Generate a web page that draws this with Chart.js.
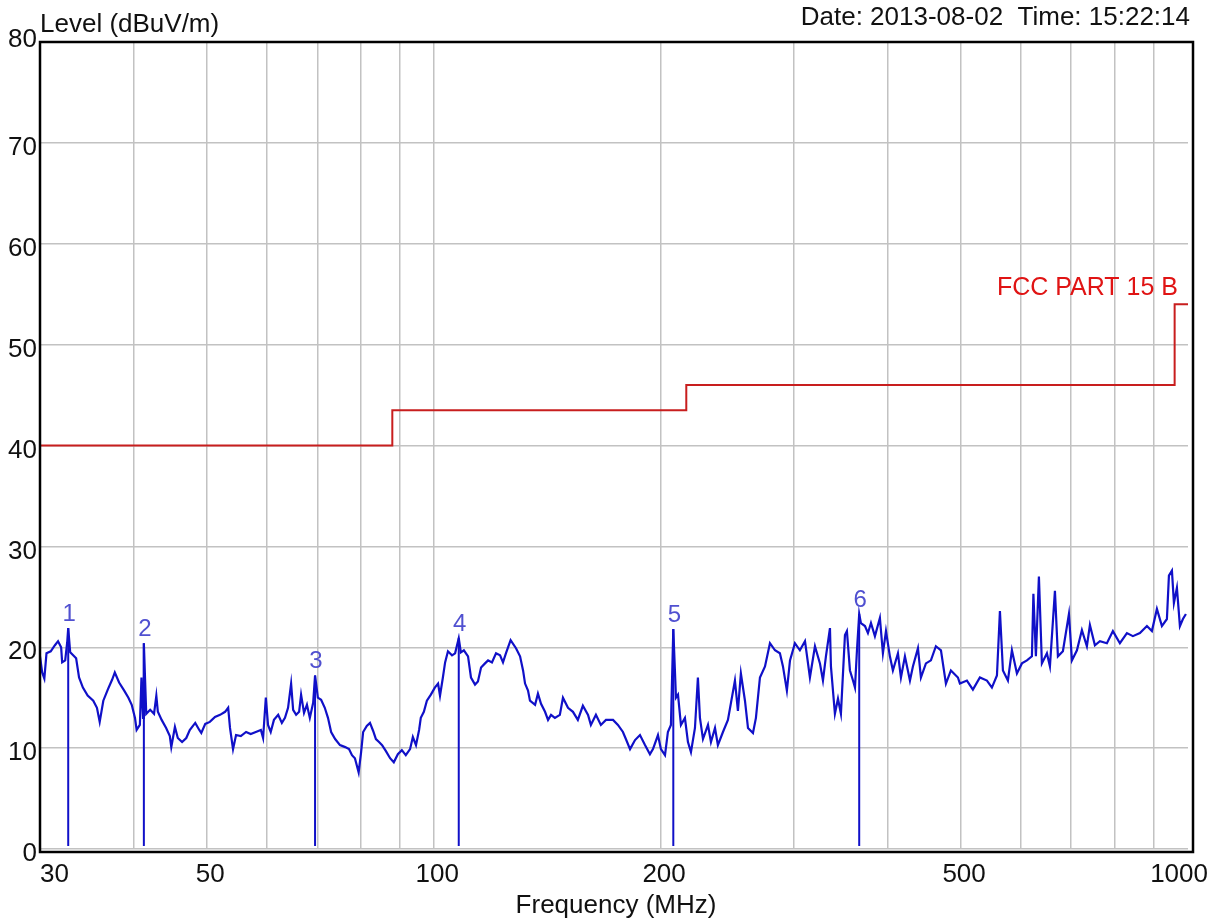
<!DOCTYPE html>
<html>
<head>
<meta charset="utf-8">
<title>Level (dBuV/m)</title>
<script src="https://cdn.jsdelivr.net/npm/chart.js@4.4.0/dist/chart.umd.min.js"></script>
<style>
    body { margin: 0; background: #fff; }
    #wrap { width: 1213px; height: 923px; }
</style>
</head>
<body>
<div id="wrap"><canvas id="emiChart" width="1213" height="923"></canvas></div>
<script>
// measured trace, frequency in MHz / level in dBuV/m
const traceFreq = [
    30.0, 30.2, 30.4, 30.6, 31.0, 31.4, 31.7, 32.0, 32.1, 32.4, 32.6, 32.7, 32.9, 33.2, 33.5, 33.8,
    34.2, 34.7, 35.3, 35.7, 36.0, 36.4, 36.9, 37.4, 37.7, 38.2, 38.8, 39.3, 39.7, 40.1, 40.3, 40.7,
    40.9, 41.1, 41.2, 41.5, 42.0, 42.5, 42.8, 43.0, 43.5, 44.1, 44.6, 44.8, 45.3, 45.7, 46.3, 46.9,
    47.4, 48.2, 48.8, 49.1, 49.7, 50.4, 51.2, 52.0, 52.8, 53.3, 53.6, 54.1, 54.6, 55.4, 56.3, 57.1,
    58.0, 58.9, 59.3, 59.8,
    60.2, 60.7, 61.3, 62.1, 62.8, 63.4, 64.0, 64.6, 65.0, 65.6, 66.2, 66.6, 67.2, 67.8, 68.4, 69.1,
    69.5, 70.1, 70.8, 71.6, 72.3, 73.0, 73.9, 75.0, 76.2, 77.1, 77.8, 78.5, 79.4, 80.0, 80.5, 81.4,
    82.2, 83.0, 83.7, 84.5, 85.3, 86.3, 87.4, 88.4, 89.5, 90.6, 91.7, 92.9, 93.7, 94.6, 95.5, 96.0,
    96.9, 97.8, 99.0, 100.2, 101.2, 101.8, 102.7, 103.4, 104.3, 105.6, 106.6, 107.8, 108.5, 109.5,
    110.9, 111.9, 113.3, 114.3, 115.4, 116.8, 117.9, 119.3, 120.8, 122.3,
    123.4, 124.5, 126.3, 128.4, 130.0, 131.2, 132.0, 133.2, 134.0, 136.1, 137.3, 138.6, 140.3, 141.6,
    142.9, 144.6, 146.8, 148.2, 150.5, 152.8, 155.1, 157.5, 160.0, 161.4, 163.9, 166.4, 169.0, 172.7,
    175.3, 178.0, 179.6, 181.9, 184.7, 187.5, 190.4, 193.3, 195.1, 198.1, 199.9, 202.4, 204.2, 206.1,
    207.6, 209.3, 210.6, 212.5, 215.1, 217.1, 219.1, 221.8, 223.8, 225.2, 227.3, 230.8, 232.9, 235.8,
    237.9, 241.6, 245.3, 250.6, 252.9, 255.2, 258.4, 260.8, 264.8, 267.2, 270.5, 274.7, 278.9, 283.2,
    287.5, 290.2, 293.7, 296.5, 301.0, 305.6, 310.4, 315.1, 320.0, 324.9, 327.9, 330.9, 335.0, 336.0,
    340.1, 343.3, 346.4, 350.7, 352.8, 356.1, 359.4, 361.6, 363.8, 366.3, 368.2, 372.8, 376.2, 379.7,
    384.3, 390.2, 393.8, 397.5, 402.3, 406.0, 412.3, 416.1, 421.2, 427.7, 431.6, 438.3, 442.3, 449.1,
    456.0, 463.0, 470.2, 477.4, 484.7, 495.2, 498.2, 509.0, 518.4, 529.6, 541.1, 549.4, 557.9, 563.0,
    568.2, 576.9, 584.0, 593.0, 602.1, 611.4, 620.8, 623.6, 628.4, 634.2, 640.0, 649.9, 655.9, 666.0,
    672.1, 682.4, 695.1, 701.5, 712.3, 723.2, 734.3, 741.1, 752.5, 764.1, 780.6, 795.0, 812.2, 829.8,
    845.1, 863.4, 882.1, 895.6, 909.4, 923.4, 937.6, 943.4, 952.1, 957.9, 966.7, 975.6, 984.6, 993.7
];
const traceLevel = [
    19.1, 17.5, 16.9, 19.4, 19.6, 20.2, 20.6, 20.0, 18.5, 18.7, 20.5, 21.9, 19.5, 19.2, 18.9, 17.0,
    16.0, 15.2, 14.7, 14.0, 12.6, 14.7, 15.8, 16.8, 17.5, 16.5, 15.7, 15.0, 14.3, 13.0, 11.8, 12.3,
    17.0, 13.0, 20.4, 13.4, 13.8, 13.4, 15.2, 13.6, 12.8, 12.0, 11.2, 10.1, 12.1, 11.0, 10.6, 11.0,
    11.8, 12.5, 11.8, 11.5, 12.4, 12.6, 13.1, 13.3, 13.6, 14.0, 12.0, 9.9, 11.3, 11.2, 11.6, 11.4,
    11.6, 11.8, 11.0, 15.0,
    12.3, 11.6, 12.8, 13.3, 12.5, 13.0, 14.0, 16.4, 13.8, 13.3, 13.6, 15.3, 13.5, 14.3, 13.0, 14.5,
    17.2, 15.0, 14.8, 14.0, 13.0, 11.6, 10.9, 10.3, 10.1, 9.9, 9.3, 9.0, 7.6, 9.6, 11.6, 12.2,
    12.5, 11.7, 10.9, 10.6, 10.3, 9.7, 9.0, 8.6, 9.4, 9.8, 9.3, 9.9, 11.1, 10.3, 11.8, 13.0,
    13.6, 14.7, 15.3, 16.0, 16.4, 15.2, 17.0, 18.5, 19.6, 19.2, 19.4, 20.9, 19.5, 19.7,
    19.1, 17.0, 16.3, 16.6, 18.0, 18.4, 18.7, 18.5, 19.4, 19.2,
    18.5, 19.4, 20.7, 19.9, 19.1, 17.7, 16.4, 15.7, 14.7, 14.3, 15.4, 14.4, 13.6, 12.8,
    13.3, 13.0, 13.3, 15.0, 14.0, 13.6, 12.8, 14.2, 13.3, 12.3, 13.3, 12.3, 12.8, 12.8,
    12.3, 11.6, 10.9, 9.9, 10.8, 11.3, 10.3, 9.4, 9.9, 11.3, 9.9, 9.3, 11.6, 12.3,
    21.8, 15.0, 15.3, 12.3, 13.0, 10.6, 9.6, 12.0, 17.0, 13.0, 10.9, 12.3, 10.6, 12.0,
    10.3, 11.6, 12.8, 16.7, 13.7, 17.4, 14.7, 12.0, 11.5, 13.0, 17.0, 18.1, 20.4, 19.7,
    19.4, 18.1, 15.7, 18.7, 20.4, 19.7, 20.6, 17.0, 20.1, 18.4, 16.7, 19.1, 21.9, 18.1,
    13.4, 14.9, 13.4, 21.2, 21.6, 17.7, 16.7, 16.0, 19.7, 23.3, 22.4, 22.1, 21.4, 22.4,
    21.1, 22.9, 19.4, 21.6, 19.1, 17.7, 19.4, 17.0, 19.1, 16.7, 18.1, 19.9, 17.0, 18.4,
    18.7, 20.1, 19.7, 16.4, 17.7, 17.0, 16.4, 16.7, 15.8, 17.0, 16.7, 16.0, 17.2, 23.6,
    17.7, 16.7, 19.7, 17.4, 18.4, 18.7, 19.1, 25.3, 19.1, 27.0, 18.4, 19.4, 18.1, 25.6,
    19.1, 19.6, 23.3, 18.7, 19.7, 21.7, 20.1, 22.2, 20.2, 20.6, 20.4, 21.6, 20.4, 21.4,
    21.1, 21.4, 22.1, 21.6, 23.8, 22.1, 22.8, 27.1, 27.6, 24.4, 25.9, 22.1, 22.8, 23.3
];

// FCC Part 15 B class B limit (step line)
const limitFreq = [30, 88, 88, 216, 216, 960, 960, 1000];
const limitLevel = [40, 40, 43.5, 43.5, 46, 46, 54, 54];

// marker peaks
const markerNames = ['1', '2', '3', '4', '5', '6'];
const markerFreq = [32.7, 41.2, 69.5, 107.8, 207.6, 366.3];
const markerLevel = [21.9, 20.4, 17.2, 20.9, 21.8, 23.3];

// axes
const gridFreqs = [30, 40, 50, 60, 70, 80, 90, 100, 200, 300, 400, 500, 600, 700, 800, 900];
const freqTickLabels = [30, 50, 100, 200, 500, 1000];
const levelTicks = [0, 10, 20, 30, 40, 50, 60, 70, 80];

const FONT = '"Liberation Sans", Arial, sans-serif';
const TRACE_BLUE = '#1010c8';

function buildDatasets() {
    const sets = [];
    sets.push({
        data: traceFreq.map((f, i) => ({ x: f, y: traceLevel[i] })),
        borderColor: TRACE_BLUE,
        borderWidth: 2.2,
        pointRadius: 0,
        tension: 0
    });
    sets.push({
        data: limitFreq.map((f, i) => ({ x: f, y: limitLevel[i] })),
        borderColor: '#c81e1e',
        borderWidth: 2,
        pointRadius: 0,
        tension: 0
    });
    markerFreq.forEach((f, i) => {
        sets.push({
            data: [{ x: f, y: 0.3 }, { x: f, y: markerLevel[i] }],
            borderColor: TRACE_BLUE,
            borderWidth: 2,
            pointRadius: 0
        });
    });
    return sets;
}

// frame, tick labels, headings and marker numbers
const overlay = {
    id: 'overlay',
    afterDraw(chart) {
        const ctx = chart.ctx;
        const area = chart.chartArea;
        const xs = chart.scales.x;
        const ys = chart.scales.y;
        ctx.save();

        ctx.strokeStyle = '#000';
        ctx.lineWidth = 2.5;
        ctx.strokeRect(area.left, area.top, area.right + 5 - area.left, area.bottom + 3 - area.top);

        ctx.fillStyle = '#111';
        ctx.font = '26px ' + FONT;
        ctx.textBaseline = 'middle';
        ctx.textAlign = 'right';
        levelTicks.forEach(v => {
            const p = ys.getPixelForValue(v);
            ctx.fillText(String(v), area.left - 3, v === 80 ? p - 2 : p + 5);
        });

        ctx.textBaseline = 'alphabetic';
        freqTickLabels.forEach((v, i) => {
            const p = xs.getPixelForValue(v);
            if (i === 0) {
                ctx.textAlign = 'left';
                ctx.fillText(String(v), area.left, 882);
            } else if (i === freqTickLabels.length - 1) {
                ctx.textAlign = 'right';
                ctx.fillText(String(v), area.right + 20, 882);
            } else {
                ctx.textAlign = 'center';
                ctx.fillText(String(v), p + 3, 882);
            }
        });

        ctx.textAlign = 'center';
        ctx.fillText('Frequency (MHz)', (area.left + area.right) / 2 + 2, 913);
        ctx.textAlign = 'left';
        ctx.fillText('Level (dBuV/m)', area.left, 32);
        ctx.textAlign = 'right';
        ctx.fillText('Date: 2013-08-02  Time: 15:22:14', 1190, 25);

        ctx.fillStyle = '#e01414';
        ctx.font = '25px ' + FONT;
        ctx.fillText('FCC PART 15 B', xs.getPixelForValue(1000) - 10, ys.getPixelForValue(54) - 9);

        ctx.fillStyle = '#5050d0';
        ctx.font = '24px ' + FONT;
        ctx.textAlign = 'center';
        markerNames.forEach((name, i) => {
            ctx.fillText(name, xs.getPixelForValue(markerFreq[i]) + 1, ys.getPixelForValue(markerLevel[i]) - 7);
        });

        ctx.restore();
    }
};

const ctx = document.getElementById('emiChart').getContext('2d');
const chart = new Chart(ctx, {
    type: 'line',
    data: { datasets: buildDatasets() },
    options: {
        responsive: false,
        animation: false,
        layout: { padding: { top: 42, right: 25, left: 0, bottom: 0 } },
        plugins: {
            legend: { display: false },
            tooltip: { enabled: false }
        },
        scales: {
            x: {
                type: 'logarithmic',
                min: 30,
                max: 1000,
                afterBuildTicks: axis => { axis.ticks = gridFreqs.map(v => ({ value: v })); },
                afterFit: axis => { axis.height = 74; },
                ticks: { display: false },
                grid: { color: '#c2c2c2', lineWidth: 1.5, drawTicks: false },
                border: { display: false }
            },
            y: {
                min: 0,
                max: 80,
                afterBuildTicks: axis => { axis.ticks = levelTicks.map(v => ({ value: v })); },
                afterFit: axis => { axis.width = 40; },
                ticks: { display: false },
                grid: { color: '#c2c2c2', lineWidth: 1.5, drawTicks: false },
                border: { display: false }
            }
        }
    },
    plugins: [overlay]
});
</script>
</body>
</html>
